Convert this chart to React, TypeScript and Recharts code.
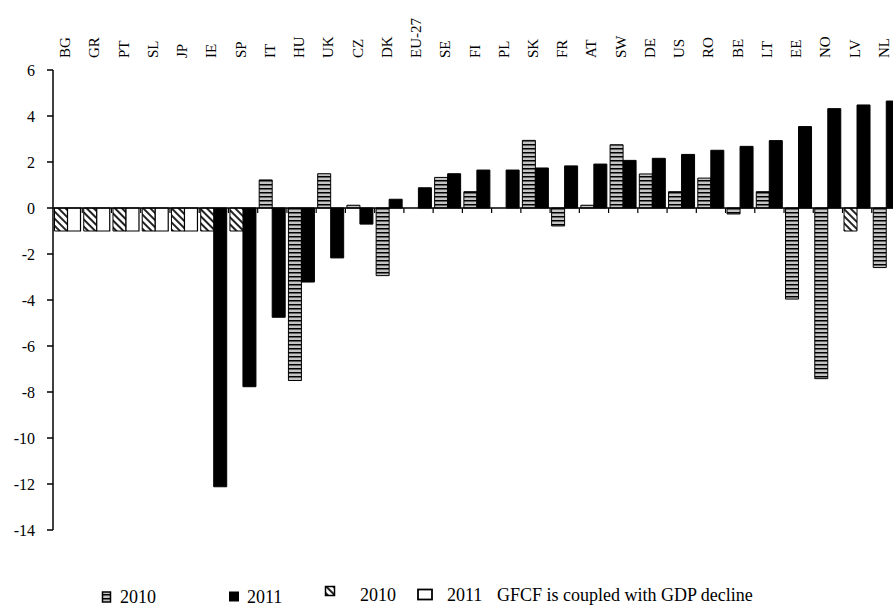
import React from "react";
import { BarChart, Bar, XAxis, YAxis, ReferenceLine, Legend } from "recharts";

const countries = [
  "BG", "GR", "PT", "SL", "JP", "IE", "SP", "IT", "HU", "UK", "CZ", "DK", "EU-27", "SE", "FI",
  "PL", "SK", "FR", "AT", "SW", "DE", "US", "RO", "BE", "LT", "EE", "NO", "LV", "NL",
];

// GFCF growth, %
const gfcf2010 = [
  null, null, null, null, null, null, null, 1.22, -7.5, 1.49, 0.12, -2.94, null, 1.33, 0.71,
  null, 2.94, -0.78, 0.12, 2.75, 1.48, 0.71, 1.3, -0.26, 0.71, -3.96, -7.42, null, -2.59,
];
const gfcf2011 = [
  null, null, null, null, null, -12.12, -7.77, -4.75, -3.22, -2.17, -0.7, 0.38, 0.88, 1.49, 1.65,
  1.65, 1.74, 1.83, 1.91, 2.07, 2.16, 2.33, 2.51, 2.68, 2.93, 3.54, 4.32, 4.48, 4.65,
];
// marker bars: GFCF decline coupled with GDP decline
const coupled2010 = [
  -1, -1, -1, -1, -1, -1, -1, null, null, null, null, null, null, null, null,
  null, null, null, null, null, null, null, null, null, null, null, null, -1, null,
];
const coupled2011 = [
  -1, -1, -1, -1, -1, null, null, null, null, null, null, null, null, null, null,
  null, null, null, null, null, null, null, null, null, null, null, null, null, null,
];

const yTicks = [-14, -12, -10, -8, -6, -4, -2, 0, 2, 4, 6];

const data = countries.map((c, i) => ({
  country: c,
  g2010: gfcf2010[i],
  g2011: gfcf2011[i],
  c2010: coupled2010[i],
  c2011: coupled2011[i],
}));

const FONT = "'Liberation Serif', 'Times New Roman', serif";

const CountryTick = ({ x, payload }: any) => (
  <g transform={`translate(${Number(x) + 2.5},58)`}>
    <text transform="rotate(-90)" textAnchor="start" fontSize={15} fontFamily={FONT} fill="#000">
      {payload.value}
    </text>
  </g>
);

const ValueTick = ({ x, y, payload }: any) => (
  <text
    x={x}
    y={y}
    dy={5.5}
    textAnchor="end"
    fontSize={16}
    fontFamily={FONT}
    fill="#000"
  >
    {payload.value}
  </text>
);

// zero axis with small ticks at the category boundaries
const ZeroAxis = (props: any) => {
  const { x1, x2, y1 } = props;
  const step = (x2 - x1) / countries.length;
  return (
    <g>
      <line x1={x1} x2={x2} y1={y1} y2={y1} stroke="#000" strokeWidth={1.5} />
      {countries.map((_, i) => (
        <line
          key={i}
          x1={x1 + step * (i + 1)}
          x2={x1 + step * (i + 1)}
          y1={y1}
          y2={y1 + 5}
          stroke="#000"
          strokeWidth={1.2}
        />
      ))}
    </g>
  );
};

const Patterns = ({ suffix }: { suffix: string }) => (
  <defs>
    <pattern id={`stripes${suffix}`} width="4" height="4" patternUnits="userSpaceOnUse">
      <rect width="4" height="4" fill="#c4c4c4" />
      <rect width="4" height="1.5" fill="#000" />
    </pattern>
    <pattern
      id={`hatch${suffix}`}
      width="5"
      height="5"
      patternUnits="userSpaceOnUse"
      patternTransform="rotate(45)"
    >
      <rect width="5" height="5" fill="#fff" />
      <rect width="5" height="2" fill="#222" />
    </pattern>
  </defs>
);

const LegendRow = () => (
  <svg width={893} height={37} style={{ display: "block" }}>
    <Patterns suffix="L" />
    <g fontFamily={FONT} fontSize={18} fill="#000">
      <rect x={102.5} y={22} width={8} height={10} fill="url(#stripesL)" stroke="#000" strokeWidth={1.5} />
      <text x={120} y={32.5}>2010</text>
      <rect x={229} y={21.5} width={10} height={10} fill="#000" />
      <text x={247} y={32.5}>2011</text>
      <rect x={325.5} y={16.5} width={9} height={9} fill="url(#hatchL)" stroke="#000" strokeWidth={1.5} />
      <text x={360} y={30.5}>2010</text>
      <rect x={418} y={19.5} width={14} height={10} fill="#fff" stroke="#000" strokeWidth={1.8} />
      <text x={447} y={31}>2011</text>
      <text x={497} y={31}>GFCF is coupled with GDP decline</text>
    </g>
  </svg>
);

export default function App() {
  return (
    <div
      style={{
        position: "absolute",
        left: 0,
        top: 0,
        width: 893,
        height: 607,
        overflow: "hidden",
        background: "#fff",
      }}
    >
      <BarChart
        width={920}
        height={607}
        data={data}
        margin={{ top: 0, right: 19, bottom: 77, left: 0 }}
        barCategoryGap={1.5}
        barGap={0}
        stackOffset="sign"
      >
        <Patterns suffix="" />
        <XAxis
          dataKey="country"
          orientation="top"
          height={70}
          axisLine={false}
          tickLine={false}
          interval={0}
          tick={<CountryTick />}
        />
        <YAxis
          width={53}
          domain={[-14, 6]}
          ticks={yTicks}
          interval={0}
          allowDataOverflow
          axisLine={{ stroke: "#000", strokeWidth: 1.5 }}
          tickLine={{ stroke: "#000", strokeWidth: 1.5 }}
          tickSize={6}
          tickMargin={12}
          tick={<ValueTick />}
        />
        <Bar dataKey="g2010" name="2010" stackId="y2010" fill="url(#stripes)" stroke="#000" strokeWidth={1} isAnimationActive={false} />
        <Bar dataKey="g2011" name="2011" stackId="y2011" fill="#000" stroke="#000" strokeWidth={1} isAnimationActive={false} />
        <Bar dataKey="c2010" name="2010 coupled" stackId="y2010" fill="url(#hatch)" stroke="#000" strokeWidth={1} isAnimationActive={false} />
        <Bar dataKey="c2011" name="2011 coupled" stackId="y2011" fill="#fff" stroke="#000" strokeWidth={1.2} isAnimationActive={false} />
        <ReferenceLine y={0} shape={<ZeroAxis />} />
        <Legend
          layout="horizontal"
          verticalAlign="middle"
          align="center"
          wrapperStyle={{ left: 0, top: 570, width: 893, height: 37 }}
          content={() => <LegendRow />}
        />
      </BarChart>
    </div>
  );
}
